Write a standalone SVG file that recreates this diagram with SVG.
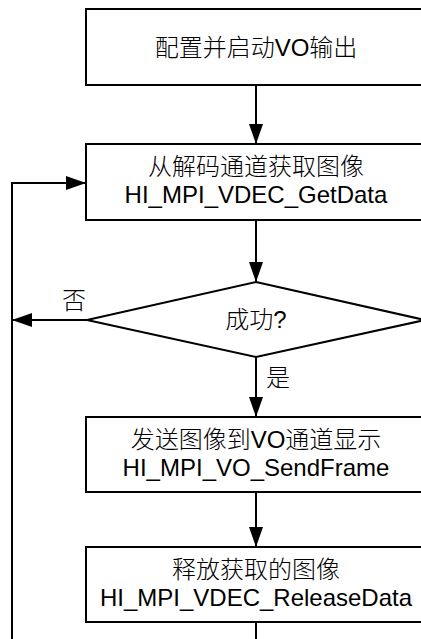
<svg xmlns="http://www.w3.org/2000/svg" width="421" height="639" viewBox="0 0 421 639">
<style>
.box{fill:#fff;stroke:#000;stroke-width:2}
.ln{fill:none;stroke:#000;stroke-width:2}
text{font-family:"Liberation Sans","Noto Sans CJK SC",Arial,sans-serif;font-size:24px;fill:#000}
.c{text-anchor:middle}
.zh{font-weight:300}
</style>
<defs>
<marker id="ah" markerWidth="20" markerHeight="14" refX="20" refY="7" orient="auto" markerUnits="userSpaceOnUse">
<path d="M0,0 L20,7 L0,14 Z" fill="#000"/>
</marker>
</defs>
<rect width="421" height="639" fill="#fff"/>
<g id="connectors">
<line class="ln" x1="256" y1="85" x2="256" y2="144" marker-end="url(#ah)"/>
<line class="ln" x1="256" y1="220" x2="256" y2="282" marker-end="url(#ah)"/>
<line class="ln" x1="256" y1="357" x2="256" y2="417" marker-end="url(#ah)"/>
<line class="ln" x1="256" y1="492" x2="256" y2="547" marker-end="url(#ah)"/>
<polyline class="ln" points="256,622 256,645"/>
<polyline class="ln" points="12,645 12,183 86,183" marker-end="url(#ah)"/>
<line class="ln" x1="87" y1="320" x2="12" y2="320" marker-end="url(#ah)"/>
<text class="zh" x="62" y="309">否</text>
<text class="zh" x="266" y="386">是</text>
</g>
<g id="n1">
<rect class="box" x="86" y="9" width="350" height="76"/>
<text class="c zh" x="256" y="56">配置并启动VO输出</text>
</g>
<g id="n2">
<rect class="box" x="86" y="144" width="350" height="76"/>
<text class="c zh" x="256" y="175">从解码通道获取图像</text>
<text class="c" x="256" y="203">HI_MPI_VDEC_GetData</text>
</g>
<g id="n3">
<polygon class="box" points="256,282 425,320 256,357 87,320"/>
<text class="c zh" x="256" y="328">成功?</text>
</g>
<g id="n4">
<rect class="box" x="86" y="417" width="350" height="75"/>
<text class="c zh" x="256" y="448">发送图像到VO通道显示</text>
<text class="c" x="256" y="476">HI_MPI_VO_SendFrame</text>
</g>
<g id="n5">
<rect class="box" x="86" y="547" width="350" height="75"/>
<text class="c zh" x="256" y="578">释放获取的图像</text>
<text class="c" x="256" y="606">HI_MPI_VDEC_ReleaseData</text>
</g>
</svg>
